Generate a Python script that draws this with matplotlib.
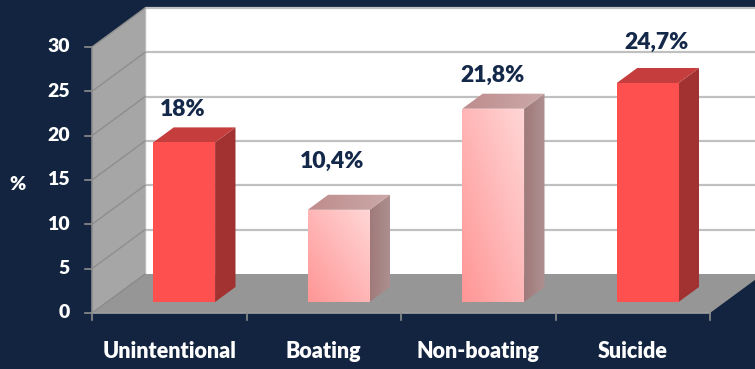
import numpy as np
import matplotlib
matplotlib.use("Agg")
import matplotlib.pyplot as plt
from matplotlib.patches import Polygon
from matplotlib.colors import LinearSegmentedColormap

# ---- data ----
categories = ["Unintentional", "Boating", "Non-boating", "Suicide"]
values = [18.0, 10.4, 21.8, 24.7]
value_labels = ["18%", "10,4%", "21,8%", "24,7%"]
y_ticks = [0, 5, 10, 15, 20, 25, 30]

# ---- style ----
BG = "#12243f"
LABEL_DARK = "#14284a"
WALL_SIDE = "#a6a6a6"
FLOOR = "#969696"
GRID_BACK = "#c0c0c0"
GRID_SIDE = "#8e8e8e"
FONT = "Lato"
WEIGHT = 800
red_style = {"kind": "solid", "front": "#ff5050", "top": "#c63d3d", "side": "#a23232"}
pink_style = {"kind": "grad",
              "front": ("#ff9696", "#ffd6d6"),
              "top": ("#bf8c8c", "#cba9a9"),
              "side": ("#a07a7a", "#ae9090")}
bar_styles = [red_style, pink_style, pink_style, red_style]
label_shift_px = [(-2, 33), (-7, 48), (-1, 33), (9, 41)]

W, H, DPI = 755, 369, 100
fig = plt.figure(figsize=(W / DPI, H / DPI), dpi=DPI, facecolor=BG)

# front plane of the box, in pixels
left_px, right_px, bottom_px, top_px = 92, 710, 313, 47
ax = fig.add_axes([left_px / W, 1 - bottom_px / H,
                   (right_px - left_px) / W, (bottom_px - top_px) / H])
ax.set_facecolor("none")
ax.set_xlim(-0.5, len(categories) - 0.5)
ax.set_ylim(0, 30)
ax.set_axis_off()

# depth of the box expressed in data units
px_per_cat = (right_px - left_px) / len(categories)
px_per_val = (bottom_px - top_px) / 30.0
DEPTH_X = 53 / px_per_cat
DEPTH_Y = 39 / px_per_val


def P(x, y, d):
    return (x + d * DEPTH_X, y + d * DEPTH_Y)


def poly(pts, color, z, ec="none", lw=0):
    p = Polygon(pts, closed=True, facecolor=color, edgecolor=ec, lw=lw,
                zorder=z, clip_on=False)
    ax.add_patch(p)
    return p


def grad_poly(pts, c0, c1, z, direction="diag"):
    p = poly(pts, "none", z)
    xs = [q[0] for q in pts]
    ys = [q[1] for q in pts]
    n = 64
    gx, gy = np.meshgrid(np.linspace(0, 1, n), np.linspace(0, 1, n))
    if direction == "diag":
        g = (gx + gy) / 2.0
    else:
        g = gx
    cmap = LinearSegmentedColormap.from_list("g", [c0, c1])
    im = ax.imshow(g, cmap=cmap, vmin=0, vmax=1, origin="lower",
                   extent=(min(xs), max(xs), min(ys), max(ys)),
                   aspect="auto", zorder=z, interpolation="bilinear")
    im.set_clip_path(p)
    return im


x0 = -0.5
x1 = len(categories) - 0.5
x_far = x1 + 1.0

# back wall
poly([P(x0, 0, 1), P(x_far, 0, 1), P(x_far, 30, 1), P(x0, 30, 1)], "white", 1)
for t in y_ticks[1:]:
    ax.plot(*zip(P(x0, t, 1), P(x_far, t, 1)), color=GRID_BACK, lw=1.6,
            zorder=2, clip_on=False, solid_capstyle="butt")
ax.plot(*zip(P(x0, 0, 1), P(x0, 30, 1)), color="#bcbcbc", lw=1.0,
        zorder=2, clip_on=False)

# side wall
poly([P(x0, 0, 0), P(x0, 30, 0), P(x0, 30, 1), P(x0, 0, 1)], WALL_SIDE, 3)
for t in y_ticks[1:]:
    ax.plot(*zip(P(x0, t, 0), P(x0, t, 1)), color=GRID_SIDE, lw=1.0,
            zorder=4, clip_on=False)

# floor
poly([P(x0, 0, 0), P(x_far, 0, 0), P(x_far, 0, 1), P(x0, 0, 1)], FLOOR, 3)
poly([P(x1, 0, 0), P(x_far + 1, 0, 0), P(x_far + 1, 0, 1), P(x1, 0, 1)], BG, 3.5)
ax.plot(*zip(P(x0, 0, 0), P(x0, 0, 1)), color="#8a8a8a", lw=0.8, zorder=4,
        clip_on=False)

# axes lines and ticks
ax.plot([x0, x0], [0, 30], color="#8c8c8c", lw=1.2, zorder=5, clip_on=False)
ax.plot([x0, x1], [0, 0], color="#a0a0a0", lw=1.2, zorder=5, clip_on=False)
tick_len_x = 7 / px_per_cat
tick_len_y = 7 / px_per_val
for t in y_ticks:
    ax.plot([x0 - tick_len_x, x0], [t, t], color="#8c8c8c", lw=1.2,
            zorder=5, clip_on=False)
    ax.text(x0 - 22 / px_per_cat, t, str(t), ha="right", va="center",
            color="white", fontsize=14, fontweight=WEIGHT, family=FONT)
for k in range(len(categories) + 1):
    xb = x0 + k
    ax.plot([xb, xb], [0, -tick_len_y], color="#8c8c8c", lw=1.2,
            zorder=5, clip_on=False)
for i, c in enumerate(categories):
    ax.text(i, -39 / px_per_val, c, ha="center", va="center",
            color="white", fontsize=15.5, fontweight=WEIGHT, family=FONT)

ax.text(x0 - 74 / px_per_cat, 14.5, "%", ha="center", va="center",
        color="white", fontsize=14, fontweight=WEIGHT, family=FONT)

# bars
BAR_W = 0.40
D0, D1 = 0.282, 0.667
for i, (v, st) in enumerate(zip(values, bar_styles)):
    bl, br = i - BAR_W / 2, i + BAR_W / 2
    front = [P(bl, 0, D0), P(br, 0, D0), P(br, v, D0), P(bl, v, D0)]
    top = [P(bl, v, D0), P(br, v, D0), P(br, v, D1), P(bl, v, D1)]
    side = [P(br, 0, D0), P(br, 0, D1), P(br, v, D1), P(br, v, D0)]
    z = 10 + i
    if st["kind"] == "solid":
        poly(side, st["side"], z)
        poly(top, st["top"], z)
        poly(front, st["front"], z + 0.5)
    else:
        grad_poly(side, st["side"][0], st["side"][1], z, "horiz")
        grad_poly(top, st["top"][0], st["top"][1], z, "horiz")
        grad_poly(front, st["front"][0], st["front"][1], z + 0.5, "diag")
    fx, fy = P(i, v, D0)
    dxp, dyp = label_shift_px[i]
    ax.annotate(value_labels[i], (fx, fy), xytext=(dxp * 0.72, dyp * 0.72),
                textcoords="offset points", ha="center", va="center",
                color=LABEL_DARK, fontsize=16.5, fontweight=WEIGHT,
                family=FONT, zorder=30, annotation_clip=False)

fig.savefig("out.png", dpi=DPI, facecolor=BG)
